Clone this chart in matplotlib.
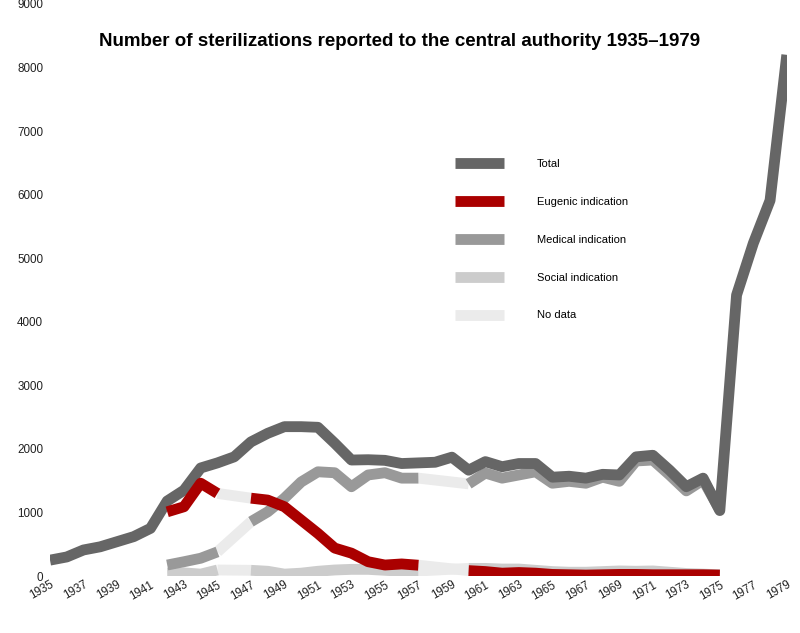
import numpy as np
import matplotlib.pyplot as plt

plt.rcParams['font.family'] = ['Liberation Sans', 'DejaVu Sans']

# data
years_total = list(range(1935, 1980))
total = [250, 300, 410, 460, 540, 620, 750, 1180, 1350, 1700, 1780, 1875,
         2110, 2245, 2350, 2350, 2340, 2090, 1825, 1830, 1820, 1770, 1780,
         1790, 1870, 1665, 1800, 1720, 1770, 1770, 1555, 1570, 1540, 1600,
         1590, 1875, 1900, 1665, 1405, 1540, 1030, 4420, 5235, 5910, 8200]

# the three indications, 1942-1975; no data for 1946 and 1958-1959
years_ind = list(range(1942, 1976))
eugenic = [1010, 1090, 1460, 1300, np.nan, 1225, 1195, 1090, 880, 670, 440,
           360, 225, 173, 190, 170, np.nan, np.nan, 85, 70, 45, 55, 45, 25,
           20, 15, 20, 25, 25, 20, 20, 20, 20, 15]
medical = [173, 225, 280, 380, np.nan, 855, 1010, 1225, 1480, 1640, 1625,
           1405, 1590, 1625, 1540, 1540, np.nan, np.nan, 1450, 1620, 1540,
           1590, 1640, 1460, 1490, 1460, 1555, 1490, 1810, 1825, 1590, 1340,
           1510, 1040]
social = [45, 50, 30, 95, np.nan, 90, 75, 30, 45, 75, 95, 105, 105, 90, 75,
          80, np.nan, np.nan, 120, 120, 110, 110, 90, 70, 60, 60, 70, 80, 75,
          80, 60, 40, 30, 20]

c_total, c_eug, c_med, c_soc, c_nodata = '#666666', '#aa0000', '#999999', '#cccccc', '#ebebeb'
lw = 7.8

fig = plt.figure(figsize=(8, 6.33), dpi=100)
ax = fig.add_axes([0.0625, 0.09, 0.921, 0.9037])

# no-data bridges between the last and next known points
def gaps(ys):
    xs = np.array(years_ind)
    ys = np.array(ys, dtype=float)
    ok = ~np.isnan(ys)
    for i in range(len(ys) - 1):
        if ok[i] and not ok[i + 1]:
            j = i + 1
            while not ok[j]:
                j += 1
            ax.plot([xs[i], xs[j]], [ys[i], ys[j]], color=c_nodata, lw=lw,
                    solid_capstyle='butt', zorder=1)

for s in (social, medical, eugenic):
    gaps(s)

ax.plot(years_ind, social, color=c_soc, lw=lw, solid_capstyle='butt',
        solid_joinstyle='round', label='Social indication', zorder=2)
ax.plot(years_ind, medical, color=c_med, lw=lw, solid_capstyle='butt',
        solid_joinstyle='round', label='Medical indication', zorder=3)
ax.plot(years_total, total, color=c_total, lw=lw, solid_capstyle='butt',
        solid_joinstyle='round', label='Total', zorder=4)
ax.plot(years_ind, eugenic, color=c_eug, lw=lw, solid_capstyle='butt',
        solid_joinstyle='round', label='Eugenic indication', zorder=5)
ax.plot([], [], color=c_nodata, lw=lw, solid_capstyle='butt', label='No data')

ax.set_xlim(1935, 1979)
ax.set_ylim(0, 9000)
ax.set_yticks(range(0, 9001, 1000))
ax.set_xticks(range(1935, 1980, 2))
ax.tick_params(length=0, labelsize=8.4, colors='#222222')
ax.tick_params(axis='y', pad=5)
ax.tick_params(axis='x', pad=2)
for lab in ax.get_xticklabels():
    lab.set_rotation(30)
    lab.set_ha('right')
    lab.set_va('top')
    lab.set_rotation_mode('anchor')
for sp in ax.spines.values():
    sp.set_visible(False)

handles, labels = ax.get_legend_handles_labels()
order = ['Total', 'Eugenic indication', 'Medical indication', 'Social indication', 'No data']
hl = [handles[labels.index(o)] for o in order]
ax.legend(hl, order, loc='upper left', bbox_to_anchor=(0.536, 0.746),
          frameon=False, fontsize=8, handlelength=4.4, handletextpad=3.0,
          labelspacing=2.5)

fig.text(0.5, 0.935, 'Number of sterilizations reported to the central authority 1935–1979',
         ha='center', va='center', fontsize=13.5, fontweight='bold')

fig.savefig('out.png', dpi=100)
